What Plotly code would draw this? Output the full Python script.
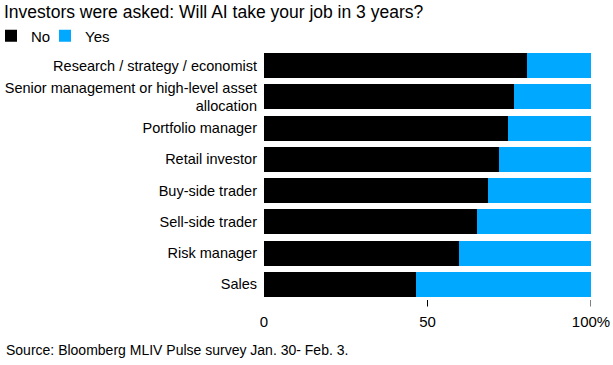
import plotly.graph_objects as go

categories = [
    "Research / strategy / economist",
    "Senior management or high-level asset<br>allocation",
    "Portfolio manager",
    "Retail investor",
    "Buy-side trader",
    "Sell-side trader",
    "Risk manager",
    "Sales",
]
no_pct = [80.3, 76.5, 74.5, 71.8, 68.4, 65.2, 59.7, 46.5]
yes_pct = [19.7, 23.5, 25.5, 28.2, 31.6, 34.8, 40.3, 53.5]
tick_vals = [0, 50, 100]
tick_text = ["0", "50", "100%"]
tick_marks = [50, 100]

FONT = "Liberation Sans, Arial, sans-serif"
W, H = 613, 365
L, R, T, B = 264, 22, 50, 65
PW, PH = W - L - R, H - T - B


def px_x(p):
    return (p - L) / PW


fig = go.Figure()
fig.add_trace(go.Bar(y=categories, x=no_pct, orientation="h", name="No",
                     legend="legend", showlegend=True,
                     marker=dict(color="#000000", line=dict(width=0))))
fig.add_trace(go.Bar(y=categories, x=yes_pct, orientation="h", name="Yes",
                     legend="legend2", showlegend=True,
                     marker=dict(color="#00a8ff", line=dict(width=0))))

shapes = [dict(type="line", xref="x", yref="paper", x0=v, x1=v, y0=0, y1=-0.026,
               line=dict(color="#000000", width=1)) for v in tick_marks]

leg_common = dict(orientation="h", xref="paper", yref="container",
                  xanchor="left", y=1 - 36 / H, yanchor="middle",
                  visible=True,
                  font=dict(size=15), bgcolor="rgba(0,0,0,0)")

fig.update_layout(
    width=W, height=H,
    showlegend=True,
    margin=dict(l=L, r=R, t=T, b=B, autoexpand=False),
    barmode="stack", bargap=0.2,
    paper_bgcolor="white", plot_bgcolor="white",
    font=dict(family=FONT, size=15, color="#000000"),
    title=dict(text="Investors were asked: Will AI take your job in 3 years?",
               x=4 / W, xanchor="left", xref="container",
               y=1 - 11.5 / H, yanchor="middle", yref="container",
               font=dict(size=17.5, family=FONT, color="#000000"),
               automargin=False),
    legend=dict(x=px_x(0), indentation=-9, **leg_common),
    legend2=dict(x=px_x(52), indentation=-7, **leg_common),
    xaxis=dict(range=[0, 100], tickvals=tick_vals, ticktext=tick_text,
               showgrid=False, zeroline=False, showline=False, ticks="",
               ticklabelstandoff=11, fixedrange=True, automargin=False),
    yaxis=dict(autorange="reversed", showgrid=False, zeroline=False,
               ticks="", ticklabelstandoff=6, fixedrange=True,
               automargin=False, tickfont=dict(size=14.5)),
    shapes=shapes,
    annotations=[dict(text="Source: Bloomberg MLIV Pulse survey Jan. 30- Feb. 3.",
                      xref="paper", yref="paper",
                      x=px_x(4), xanchor="left",
                      y=(H - B - 350) / PH, yanchor="middle",
                      showarrow=False, font=dict(size=14, color="#000000"))],
)

fig.write_html("out.html",
               config={"displayModeBar": False},
               post_script="document.body.style.margin='0';")
